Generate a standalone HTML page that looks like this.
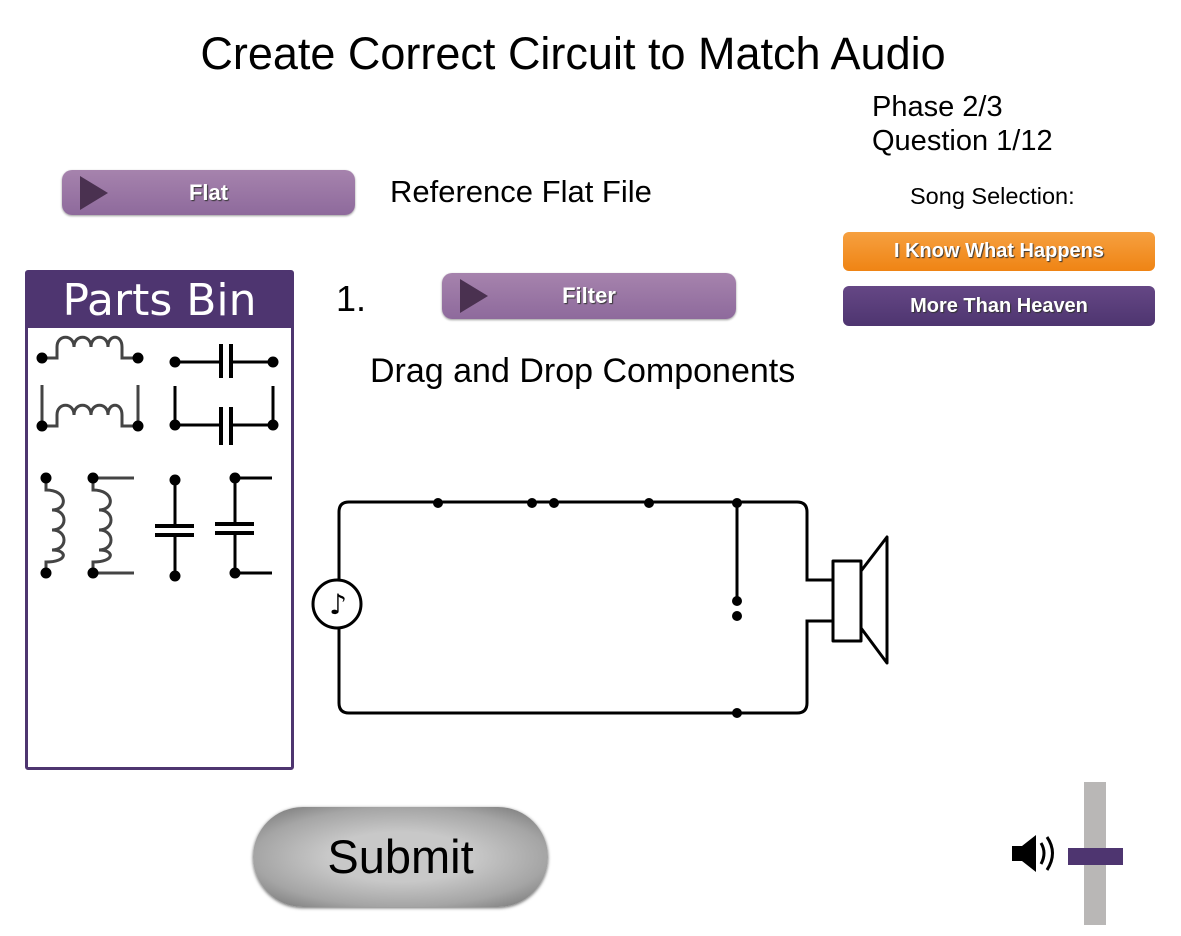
<!DOCTYPE html>
<html><head><meta charset="utf-8">
<style>
body{margin:0;width:1181px;height:936px;background:#fff;position:relative;overflow:hidden;font-family:"Liberation Sans",sans-serif;color:#000}
.t{position:absolute;white-space:nowrap;line-height:1}
.pbtn{position:absolute;border-radius:10px;background:linear-gradient(#a683ad,#8e6a9c);box-shadow:0 1px 2px #999;color:#fff;font-weight:bold;font-size:22px;text-align:center;text-shadow:1px 1px 1px #333;font-family:"Liberation Sans",sans-serif}
.tri{position:absolute;left:18px;top:6px;width:0;height:0;border-top:17px solid transparent;border-bottom:17px solid transparent;border-left:28px solid #4a3150}
.sbtn{position:absolute;border-radius:6px;color:#fff;font-weight:bold;font-size:20px;text-align:center;text-shadow:1px 1px 1px #333;font-family:"Liberation Sans",sans-serif}
</style></head><body>
<div class="t" style="left:0;width:1146px;text-align:center;top:31px;font-size:45px">Create Correct Circuit to Match Audio</div>
<div class="t" style="left:872px;top:93px;font-size:29px">Phase 2/3</div>
<div class="t" style="left:872px;top:127px;font-size:29px">Question 1/12</div>

<div class="pbtn" style="left:62px;top:170px;width:293px;height:45px;line-height:45px"><div class="tri"></div>Flat</div>
<div class="t" style="left:390px;top:176px;font-size:31px">Reference Flat File</div>
<div class="t" style="left:910px;top:185px;font-size:23.5px">Song Selection:</div>
<div class="sbtn" style="left:843px;top:232px;width:312px;height:39px;line-height:39px;background:linear-gradient(#f6a040,#ef8414)">I Know What Happens</div>
<div class="sbtn" style="left:843px;top:286px;width:312px;height:40px;line-height:40px;background:linear-gradient(#654785,#4e3570)">More Than Heaven</div>

<div style="position:absolute;left:25px;top:270px;width:263px;height:494px;border:3px solid #4e3570;border-radius:3px;background:#fff">
 <div style="height:55px;background:#4e3570;color:#fff;font-size:44px;text-align:center;line-height:55px;font-family:'DejaVu Sans',sans-serif">Parts Bin</div>
</div>

<div class="t" style="left:336px;top:281px;font-size:36px">1.</div>
<div class="pbtn" style="left:442px;top:273px;width:294px;height:46px;line-height:46px"><div class="tri"></div>Filter</div>
<div class="t" style="left:370px;top:354px;font-size:34px">Drag and Drop Components</div>

<svg width="1181" height="936" style="position:absolute;left:0;top:0" fill="none" stroke="#000" stroke-width="3">
 <g>
  <g>
   <path d="M42 358H57V347C57 334 74 334 74 347C74 334 91 334 91 347C91 334 108 334 108 347C108 334 122 334 122 347V358H138" stroke="#444"/>
   <circle cx="42" cy="358" r="4" fill="#000"/><circle cx="138" cy="358" r="4" fill="#000"/>
  </g>
  <g>
   <path d="M42 385V426H57V415C57 402 74 402 74 415C74 402 91 402 91 415C91 402 108 402 108 415C108 402 122 402 122 415V426H138V385" stroke="#444"/>
   <circle cx="42" cy="426" r="4" fill="#000"/><circle cx="138" cy="426" r="4" fill="#000"/>
  </g>
  <g>
   <path d="M175 362H221M231 362H273"/><path d="M221 344V378M231 344V378" stroke-width="4"/>
   <circle cx="175" cy="362" r="4" fill="#000"/><circle cx="273" cy="362" r="4" fill="#000"/>
  </g>
  <g>
   <path d="M175 386V425H221M231 425H273V386"/><path d="M221 407V445M231 407V445" stroke-width="4"/>
   <circle cx="175" cy="425" r="4" fill="#000"/><circle cx="273" cy="425" r="4" fill="#000"/>
  </g>
  <g>
   <path d="M46 478V490C68 490 68 510 52 510C68 510 68 530 52 530C68 530 68 550 52 550C68 550 68 562 46 562V573" stroke="#444"/>
   <circle cx="46" cy="478" r="4" fill="#000"/><circle cx="46" cy="573" r="4" fill="#000"/>
  </g>
  <g>
   <path d="M134 478H93V490C115 490 115 510 99 510C115 510 115 530 99 530C115 530 115 550 99 550C115 550 115 562 93 562V573H134" stroke="#444"/>
   <circle cx="93" cy="478" r="4" fill="#000"/><circle cx="93" cy="573" r="4" fill="#000"/>
  </g>
  <g>
   <path d="M175 480V526M175 535V576"/><path d="M155 526H194M155 535H194" stroke-width="4"/>
   <circle cx="175" cy="480" r="4" fill="#000"/><circle cx="175" cy="576" r="4" fill="#000"/>
  </g>
  <g>
   <path d="M272 478H235V524M235 533V573H272"/><path d="M215 524H254M215 533H254" stroke-width="4"/>
   <circle cx="235" cy="478" r="4" fill="#000"/><circle cx="235" cy="573" r="4" fill="#000"/>
  </g>
 </g>
 <g>
  <path d="M339 579V512Q339 502 349 502H797Q807 502 807 512V580H833"/>
  <path d="M339 629V703Q339 713 349 713H797Q807 713 807 703V621H833"/>
  <path d="M737 502V601"/>
  <g fill="#000" stroke="none">
   <circle cx="438" cy="503" r="5"/><circle cx="532" cy="503" r="5"/><circle cx="554" cy="503" r="5"/><circle cx="649" cy="503" r="5"/><circle cx="737" cy="503" r="5"/>
   <circle cx="737" cy="601" r="5"/><circle cx="737" cy="616" r="5"/><circle cx="737" cy="713" r="5"/>
  </g>
  <g>
   <circle cx="337" cy="604" r="24"/>
   <text x="338" y="614" font-size="28" fill="#000" stroke="none" text-anchor="middle" font-family="DejaVu Sans">♪</text>
  </g>
  <g stroke-linejoin="round">
   <rect x="833" y="561" width="28" height="80"/>
   <path d="M861 571L887 537V663L861 628"/>
  </g>
 </g>
 <g>
  <path d="M1012 846H1022L1036 835V872L1022 861H1012Z" fill="#000" stroke="none"/>
  <path d="M1041 843Q1047 853 1041 864" stroke-width="3"/>
  <path d="M1047 837Q1058 853 1047 870" stroke-width="3"/>
 </g>
</svg>

<div style="position:absolute;left:253px;top:807px;width:295px;height:100px;border-radius:50px;background:radial-gradient(ellipse at center,#c8c8c8 35%,#a5a5a5 70%,#6e6e6e 100%);box-shadow:0 1px 3px #666;font-size:47px;text-align:center;line-height:100px">Submit</div>

<div style="position:absolute;left:1084px;top:782px;width:22px;height:143px;background:#b9b7b6"></div>
<div style="position:absolute;left:1068px;top:848px;width:55px;height:17px;background:#4e3570"></div>
</body></html>
